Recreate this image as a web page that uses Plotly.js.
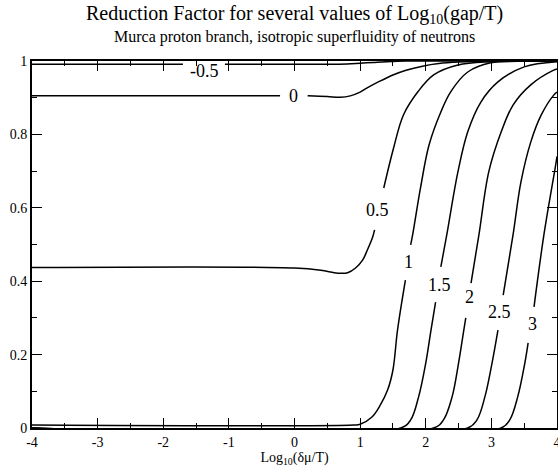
<!DOCTYPE html>
<html>
<head>
<meta charset="utf-8">
<script src="https://cdn.plot.ly/plotly-3.0.1.min.js"></script>
<style>html,body{margin:0;padding:0;background:#fff;}#chart{width:558px;height:467px;}</style>
</head>
<body>
<div id="chart"></div>
<script>
// Curve values of Log10(gap/T); null marks the label gap
const gapLabels = ['-0.5', '0', '0.5', '1', '1.5', '2', '2.5', '3'];

const xM05 = [-4, -1.70, null, -1.06, 0, 0.5, 0.8, 1.0, 1.2, 1.4, 1.7, 2.0, 4];
const yM05 = [0.991, 0.991, null, 0.991, 0.991, 0.991, 0.992, 0.994, 0.996, 0.998, 1.0, 1.0, 1.0];

const x0 = [-4, -0.22, null, 0.20, 0.5, 0.7, 0.85, 1.0, 1.1, 1.3, 1.5, 1.7, 1.95, 2.2, 2.5, 3, 4];
const y0 = [0.905, 0.905, null, 0.905, 0.903, 0.901, 0.905, 0.915, 0.926, 0.945, 0.962, 0.975, 0.986, 0.993, 0.997, 1, 1];

const x05 = [-4, 0, 0.4, 0.66, 0.81, 0.93, 1.04, 1.11, 1.19, 1.22, null, 1.36, 1.51, 1.66, 1.88, 2.12, 2.49, 3, 4];
const y05 = [0.437, 0.436, 0.430, 0.422, 0.423, 0.436, 0.458, 0.485, 0.52, 0.54, null, 0.654, 0.763, 0.853, 0.916, 0.962, 0.989, 0.998, 1];

const x1 = [-4, 0.9, 1.0, 1.18, 1.3, 1.42, 1.50, 1.57, 1.69, null, 1.77, 1.80, 1.92, 2.05, 2.23, 2.38, 2.64, 2.99, 3.4, 4];
const y1 = [0.008, 0.008, 0.01, 0.03, 0.06, 0.104, 0.158, 0.267, 0.403, null, 0.499, 0.526, 0.654, 0.771, 0.861, 0.916, 0.970, 0.995, 0.999, 1];

const x15 = [-4, 1.62, 1.77, 1.89, 2.0, 2.08, 2.15, null, 2.23, 2.32, 2.49, 2.64, 2.84, 3.10, 3.50, 4];
const y15 = [0, 0, 0.022, 0.084, 0.177, 0.267, 0.343, null, 0.439, 0.526, 0.698, 0.807, 0.888, 0.943, 0.984, 0.998];

const x2 = [-4, 2.12, 2.27, 2.40, 2.50, 2.58, 2.61, null, 2.69, 2.81, 2.96, 3.15, 3.33, 3.60, 3.95, 4];
const y2 = [0, 0, 0.022, 0.084, 0.177, 0.267, 0.30, null, 0.395, 0.526, 0.698, 0.807, 0.880, 0.935, 0.975, 0.978];

const x25 = [-4, 2.64, 2.78, 2.90, 3.01, 3.10, null, 3.18, 3.33, 3.45, 3.60, 3.76, 3.95, 4];
const y25 = [0, 0, 0.022, 0.084, 0.177, 0.267, null, 0.362, 0.526, 0.670, 0.779, 0.853, 0.907, 0.915];

const x3 = [-4, 3.15, 3.28, 3.40, 3.51, 3.56, null, 3.65, 3.80, 3.98, 4];
const y3 = [0, 0, 0.022, 0.084, 0.177, 0.232, null, 0.33, 0.526, 0.717, 0.74];

// label anchor values (x, y) on each curve
const labelX = [-1.37, -0.015, 1.27, 1.74, 2.21, 2.66, 3.13, 3.62];
const labelY = [0.973, 0.905, 0.594, 0.452, 0.39, 0.357, 0.316, 0.283];

const xTickVals = [-4, -3, -2, -1, 0, 1, 2, 3, 4];
const xTickText = ['-4', '-3', '-2', '-1', '0', '1', '2', '3', '4'];

const curves = [[xM05, yM05], [x0, y0], [x05, y05], [x1, y1], [x15, y15], [x2, y2], [x25, y25], [x3, y3]];

const traces = curves.map((c, i) => ({
  type: 'scatter', mode: 'lines', x: c[0], y: c[1], name: gapLabels[i],
  line: {color: '#000', width: 1.5, shape: 'spline', smoothing: 1.0},
  connectgaps: false, hoverinfo: 'skip'
}));

const FONT = 'Liberation Serif, Times New Roman, serif';

const annotations = gapLabels.map((t, i) => ({
  x: labelX[i], y: labelY[i], xref: 'x', yref: 'y', text: t, showarrow: false,
  xanchor: 'center', yanchor: 'middle', font: {family: FONT, size: 18, color: '#000'}
}));

annotations.push({
  xref: 'paper', yref: 'paper', x: 0.5, y: 1.127, xanchor: 'center', yanchor: 'middle', showarrow: false,
  text: 'Reduction Factor for several values of Log<sub>10</sub>(gap/T)',
  font: {family: FONT, size: 20, color: '#000'}
});
annotations.push({
  xref: 'paper', yref: 'paper', x: 0.5, y: 1.066, xanchor: 'center', yanchor: 'middle', showarrow: false,
  text: 'Murca proton branch, isotropic superfluidity of neutrons',
  font: {family: FONT, size: 16, color: '#000'}
});

const axisCommon = {
  ticks: 'inside', ticklen: 10, tickwidth: 1, tickcolor: '#000',
  showline: true, linewidth: 2, linecolor: '#000', mirror: 'allticks',
  showgrid: false, zeroline: false, automargin: false, ticklabeloverflow: 'allow',
  tickfont: {family: FONT, size: 14, color: '#000'}
};

const layout = {
  width: 558, height: 467,
  margin: {l: 32, r: 1, t: 61, b: 39, pad: 0},
  paper_bgcolor: '#fff', plot_bgcolor: '#fff',
  showlegend: false,
  font: {family: FONT, color: '#000'},
  xaxis: Object.assign({}, axisCommon, {
    range: [-4, 4], tickmode: 'array', tickvals: xTickVals, ticktext: xTickText,
    minor: {tickmode: 'linear', tick0: -4, dtick: 0.5, ticks: 'inside', ticklen: 5, tickcolor: '#000', tickwidth: 1, showgrid: false},
    title: {text: 'Log<sub>10</sub>(δμ/T)', font: {family: FONT, size: 14, color: '#000'}, standoff: 2}
  }),
  yaxis: Object.assign({}, axisCommon, {
    range: [0, 1], tickmode: 'linear', tick0: 0, dtick: 0.2,
    minor: {tickmode: 'linear', tick0: 0, dtick: 0.1, ticks: 'inside', ticklen: 5, tickcolor: '#000', tickwidth: 1, showgrid: false}
  }),
  annotations: annotations
};

Plotly.newPlot('chart', traces, layout, {displayModeBar: false, staticPlot: true});
</script>
</body>
</html>
